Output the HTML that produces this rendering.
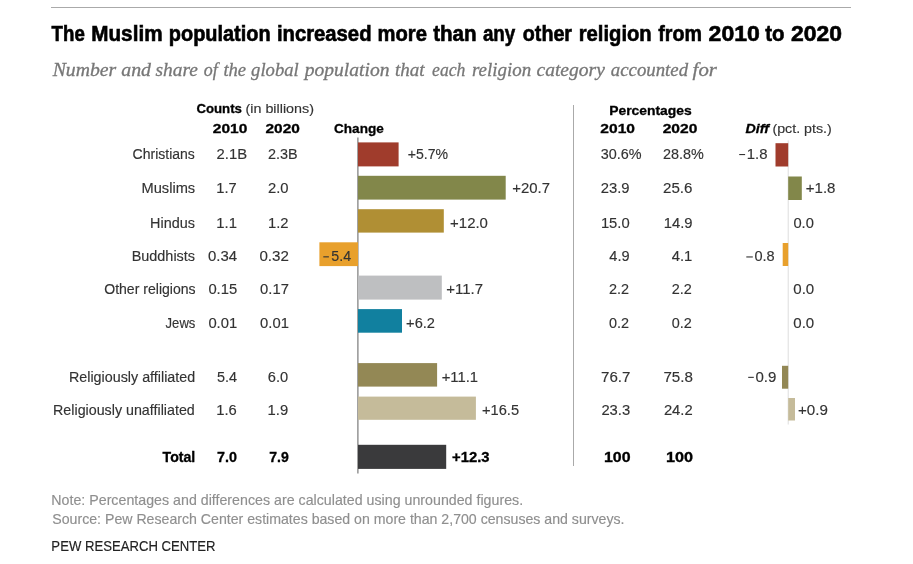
<!DOCTYPE html>
<html><head><meta charset="utf-8"><title>Pew chart</title><style>html,body{margin:0;padding:0;background:#fff;width:913px;height:564px;overflow:hidden}
svg{display:block;will-change:transform}
.r{font-family:"Liberation Sans",sans-serif;font-weight:400}
.b{font-family:"Liberation Sans",sans-serif;font-weight:700}
.bi{font-family:"Liberation Sans",sans-serif;font-weight:700;font-style:italic}
.si{font-family:"Liberation Serif",serif;font-style:italic}</style></head><body>
<svg width="913" height="564" viewBox="0 0 913 564">
<rect width="913" height="564" fill="#fff"/>
<line x1="51.00" y1="7.50" x2="851.00" y2="7.50" stroke="#aaaaaa" stroke-width="1"/>
<line x1="357.90" y1="137.60" x2="357.90" y2="473.50" stroke="#7a7a7a" stroke-width="1.2"/>
<line x1="573.50" y1="105.00" x2="573.50" y2="466.00" stroke="#aaaaaa" stroke-width="1"/>
<line x1="788.20" y1="140.40" x2="788.20" y2="424.50" stroke="#dddddd" stroke-width="1"/>
<rect x="358.00" y="142.40" width="40.60" height="24.00" fill="#A03C2C"/>
<rect x="358.00" y="175.80" width="147.70" height="23.80" fill="#82874A"/>
<rect x="358.00" y="209.20" width="85.80" height="23.40" fill="#B08F34"/>
<rect x="319.40" y="242.30" width="38.60" height="23.80" fill="#E8A02C"/>
<rect x="358.00" y="275.60" width="83.80" height="24.00" fill="#BEBFC1"/>
<rect x="358.00" y="309.10" width="44.00" height="23.60" fill="#11809F"/>
<rect x="358.00" y="363.10" width="79.10" height="23.50" fill="#938855"/>
<rect x="358.00" y="396.60" width="117.90" height="23.20" fill="#C5BB9A"/>
<rect x="358.00" y="444.80" width="88.20" height="24.10" fill="#3A3A3C"/>
<rect x="775.50" y="143.20" width="12.70" height="23.30" fill="#A03C2C"/>
<rect x="788.20" y="176.50" width="13.60" height="23.50" fill="#82874A"/>
<rect x="782.70" y="243.00" width="5.50" height="23.00" fill="#E8A02C"/>
<rect x="782.00" y="365.80" width="6.20" height="22.90" fill="#938855"/>
<rect x="788.20" y="398.00" width="6.80" height="22.50" fill="#C5BB9A"/>
<rect x="323.30" y="256.30" width="5.60" height="1.10" fill="#333333"/>
<rect x="739.20" y="154.00" width="5.90" height="1.10" fill="#333333"/>
<rect x="746.30" y="256.40" width="6.50" height="1.10" fill="#333333"/>
<rect x="748.20" y="376.80" width="5.60" height="1.10" fill="#333333"/>
<text transform="translate(51.60 41.00) scale(0.8564 1)" class="b" style="font-size:21.8px" fill="#000000" stroke="#000000" stroke-width="0.6">The</text>
<text transform="translate(91.25 41.00) scale(0.9493 1)" class="b" style="font-size:21.8px" fill="#000000" stroke="#000000" stroke-width="0.6">Muslim</text>
<text transform="translate(168.79 41.00) scale(0.9145 1)" class="b" style="font-size:21.8px" fill="#000000" stroke="#000000" stroke-width="0.6">population</text>
<text transform="translate(276.97 41.00) scale(0.9290 1)" class="b" style="font-size:21.8px" fill="#000000" stroke="#000000" stroke-width="0.6">increased</text>
<text transform="translate(377.57 41.00) scale(0.9269 1)" class="b" style="font-size:21.8px" fill="#000000" stroke="#000000" stroke-width="0.6">more</text>
<text transform="translate(433.20 41.00) scale(0.9444 1)" class="b" style="font-size:21.8px" fill="#000000" stroke="#000000" stroke-width="0.6">than</text>
<text transform="translate(482.90 41.00) scale(0.8632 1)" class="b" style="font-size:21.8px" fill="#000000" stroke="#000000" stroke-width="0.6">any</text>
<text transform="translate(522.80 41.00) scale(0.9036 1)" class="b" style="font-size:21.8px" fill="#000000" stroke="#000000" stroke-width="0.6">other</text>
<text transform="translate(578.67 41.00) scale(0.9286 1)" class="b" style="font-size:21.8px" fill="#000000" stroke="#000000" stroke-width="0.6">religion</text>
<text transform="translate(658.20 41.00) scale(0.9021 1)" class="b" style="font-size:21.8px" fill="#000000" stroke="#000000" stroke-width="0.6">from</text>
<text transform="translate(708.60 41.00) scale(1.0562 1)" class="b" style="font-size:21.8px" fill="#000000" stroke="#000000" stroke-width="0.6">2010</text>
<text transform="translate(765.30 41.00) scale(0.9350 1)" class="b" style="font-size:21.8px" fill="#000000" stroke="#000000" stroke-width="0.6">to</text>
<text transform="translate(791.10 41.00) scale(1.0500 1)" class="b" style="font-size:21.8px" fill="#000000" stroke="#000000" stroke-width="0.6">2020</text>
<text transform="translate(52.66 76.00) scale(1.0607 1)" class="si" style="font-size:18.6px" fill="#777777" stroke="#777777" stroke-width="0.3">Number</text>
<text transform="translate(121.20 76.00) scale(1.0679 1)" class="si" style="font-size:18.6px" fill="#777777" stroke="#777777" stroke-width="0.3">and</text>
<text transform="translate(155.50 76.00) scale(1.0415 1)" class="si" style="font-size:18.6px" fill="#777777" stroke="#777777" stroke-width="0.3">share</text>
<text transform="translate(203.70 76.00) scale(0.9647 1)" class="si" style="font-size:18.6px" fill="#777777" stroke="#777777" stroke-width="0.3">of</text>
<text transform="translate(223.40 76.00) scale(1.0000 1)" class="si" style="font-size:18.6px" fill="#777777" stroke="#777777" stroke-width="0.3">the</text>
<text transform="translate(251.10 76.00) scale(1.0021 1)" class="si" style="font-size:18.6px" fill="#777777" stroke="#777777" stroke-width="0.3">global</text>
<text transform="translate(304.75 76.00) scale(1.0519 1)" class="si" style="font-size:18.6px" fill="#777777" stroke="#777777" stroke-width="0.3">population</text>
<text transform="translate(394.90 76.00) scale(1.0233 1)" class="si" style="font-size:18.6px" fill="#777777" stroke="#777777" stroke-width="0.3">that</text>
<text transform="translate(432.10 76.00) scale(0.9486 1)" class="si" style="font-size:18.6px" fill="#777777" stroke="#777777" stroke-width="0.3">each</text>
<text transform="translate(471.90 76.00) scale(1.0190 1)" class="si" style="font-size:18.6px" fill="#777777" stroke="#777777" stroke-width="0.3">religion</text>
<text transform="translate(536.50 76.00) scale(1.0508 1)" class="si" style="font-size:18.6px" fill="#777777" stroke="#777777" stroke-width="0.3">category</text>
<text transform="translate(610.80 76.00) scale(1.0117 1)" class="si" style="font-size:18.6px" fill="#777777" stroke="#777777" stroke-width="0.3">accounted</text>
<text transform="translate(692.60 76.00) scale(1.1182 1)" class="si" style="font-size:18.6px" fill="#777777" stroke="#777777" stroke-width="0.3">for</text>
<text transform="translate(196.40 113.40) scale(1.0022 1)" class="b" style="font-size:13.2px" fill="#000000" stroke="#000000" stroke-width="0.3">Counts</text>
<text transform="translate(245.50 113.40) scale(1.0857 1)" class="r" style="font-size:13.2px" fill="#333333" stroke="#333333" stroke-width="0.15">(in billions)</text>
<text transform="translate(212.80 133.20) scale(1.1400 1)" class="b" style="font-size:13.6px" fill="#000000" stroke="#000000" stroke-width="0.3">2010</text>
<text transform="translate(265.50 133.20) scale(1.1367 1)" class="b" style="font-size:13.6px" fill="#000000" stroke="#000000" stroke-width="0.3">2020</text>
<text transform="translate(334.00 133.00) scale(1.0143 1)" class="b" style="font-size:13.4px" fill="#000000" stroke="#000000" stroke-width="0.3">Change</text>
<text transform="translate(609.20 114.60) scale(1.0688 1)" class="b" style="font-size:13.0px" fill="#000000" stroke="#000000" stroke-width="0.3">Percentages</text>
<text transform="translate(600.30 133.20) scale(1.1467 1)" class="b" style="font-size:13.6px" fill="#000000" stroke="#000000" stroke-width="0.3">2010</text>
<text transform="translate(662.70 133.20) scale(1.1467 1)" class="b" style="font-size:13.6px" fill="#000000" stroke="#000000" stroke-width="0.3">2020</text>
<text transform="translate(745.50 132.70) scale(1.0625 1)" class="bi" style="font-size:13.4px" fill="#000000" stroke="#000000" stroke-width="0.3">Diff</text>
<text transform="translate(772.40 132.70) scale(1.0636 1)" class="r" style="font-size:13.4px" fill="#333333" stroke="#333333" stroke-width="0.15">(pct. pts.)</text>
<text transform="translate(132.60 158.80) scale(0.9343 1)" class="r" style="font-size:15.0px" fill="#333333" stroke="#333333" stroke-width="0.15">Christians</text>
<text transform="translate(141.52 192.90) scale(0.9759 1)" class="r" style="font-size:15.0px" fill="#333333" stroke="#333333" stroke-width="0.15">Muslims</text>
<text transform="translate(150.04 227.60) scale(0.9609 1)" class="r" style="font-size:15.0px" fill="#333333" stroke="#333333" stroke-width="0.15">Hindus</text>
<text transform="translate(131.64 260.80) scale(0.9631 1)" class="r" style="font-size:15.0px" fill="#333333" stroke="#333333" stroke-width="0.15">Buddhists</text>
<text transform="translate(104.20 294.00) scale(0.9381 1)" class="r" style="font-size:15.0px" fill="#333333" stroke="#333333" stroke-width="0.15">Other religions</text>
<text transform="translate(165.60 327.80) scale(0.8706 1)" class="r" style="font-size:15.0px" fill="#333333" stroke="#333333" stroke-width="0.15">Jews</text>
<text transform="translate(68.95 382.00) scale(0.9550 1)" class="r" style="font-size:15.0px" fill="#333333" stroke="#333333" stroke-width="0.15">Religiously affiliated</text>
<text transform="translate(53.05 415.30) scale(0.9527 1)" class="r" style="font-size:15.0px" fill="#333333" stroke="#333333" stroke-width="0.15">Religiously unaffiliated</text>
<text transform="translate(162.60 462.10) scale(1.0094 1)" class="b" style="font-size:14px" fill="#000000" stroke="#000000" stroke-width="0.3">Total</text>
<text transform="translate(216.60 158.80) scale(0.9900 1)" class="r" style="font-size:15.0px" fill="#333333" stroke="#333333" stroke-width="0.15">2.1B</text>
<text transform="translate(216.32 192.90) scale(0.9800 1)" class="r" style="font-size:15.0px" fill="#333333" stroke="#333333" stroke-width="0.15">1.7</text>
<text transform="translate(216.31 227.60) scale(0.9900 1)" class="r" style="font-size:15.0px" fill="#333333" stroke="#333333" stroke-width="0.15">1.1</text>
<text transform="translate(208.00 260.80) scale(0.9966 1)" class="r" style="font-size:15.0px" fill="#333333" stroke="#333333" stroke-width="0.15">0.34</text>
<text transform="translate(208.41 294.00) scale(0.9860 1)" class="r" style="font-size:15.0px" fill="#333333" stroke="#333333" stroke-width="0.15">0.15</text>
<text transform="translate(208.41 327.80) scale(0.9860 1)" class="r" style="font-size:15.0px" fill="#333333" stroke="#333333" stroke-width="0.15">0.01</text>
<text transform="translate(217.00 382.00) scale(0.9619 1)" class="r" style="font-size:15.0px" fill="#333333" stroke="#333333" stroke-width="0.15">5.4</text>
<text transform="translate(216.29 415.30) scale(0.9860 1)" class="r" style="font-size:15.0px" fill="#333333" stroke="#333333" stroke-width="0.15">1.6</text>
<text transform="translate(217.00 462.10) scale(1.0263 1)" class="b" style="font-size:14px" fill="#000000" stroke="#000000" stroke-width="0.3">7.0</text>
<text transform="translate(268.00 158.80) scale(0.9600 1)" class="r" style="font-size:15.0px" fill="#333333" stroke="#333333" stroke-width="0.15">2.3B</text>
<text transform="translate(268.00 192.90) scale(0.9857 1)" class="r" style="font-size:15.0px" fill="#333333" stroke="#333333" stroke-width="0.15">2.0</text>
<text transform="translate(267.99 227.60) scale(0.9860 1)" class="r" style="font-size:15.0px" fill="#333333" stroke="#333333" stroke-width="0.15">1.2</text>
<text transform="translate(259.40 260.80) scale(1.0103 1)" class="r" style="font-size:15.0px" fill="#333333" stroke="#333333" stroke-width="0.15">0.32</text>
<text transform="translate(260.11 294.00) scale(0.9860 1)" class="r" style="font-size:15.0px" fill="#333333" stroke="#333333" stroke-width="0.15">0.17</text>
<text transform="translate(260.11 327.80) scale(0.9860 1)" class="r" style="font-size:15.0px" fill="#333333" stroke="#333333" stroke-width="0.15">0.01</text>
<text transform="translate(267.80 382.00) scale(0.9762 1)" class="r" style="font-size:15.0px" fill="#333333" stroke="#333333" stroke-width="0.15">6.0</text>
<text transform="translate(267.59 415.30) scale(0.9860 1)" class="r" style="font-size:15.0px" fill="#333333" stroke="#333333" stroke-width="0.15">1.9</text>
<text transform="translate(269.20 462.10) scale(1.0053 1)" class="b" style="font-size:14px" fill="#000000" stroke="#000000" stroke-width="0.3">7.9</text>
<text transform="translate(407.70 158.80) scale(0.9395 1)" class="r" style="font-size:15.0px" fill="#333333" stroke="#333333" stroke-width="0.15">+5.7%</text>
<text transform="translate(512.30 192.90) scale(0.9947 1)" class="r" style="font-size:15.0px" fill="#333333" stroke="#333333" stroke-width="0.15">+20.7</text>
<text transform="translate(450.10 227.60) scale(0.9974 1)" class="r" style="font-size:15.0px" fill="#333333" stroke="#333333" stroke-width="0.15">+12.0</text>
<text transform="translate(331.30 260.80) scale(0.9476 1)" class="r" style="font-size:15.0px" fill="#333333" stroke="#333333" stroke-width="0.15">5.4</text>
<text transform="translate(446.20 294.00) scale(1.0000 1)" class="r" style="font-size:15.0px" fill="#333333" stroke="#333333" stroke-width="0.15">+11.7</text>
<text transform="translate(406.10 327.80) scale(0.9759 1)" class="r" style="font-size:15.0px" fill="#333333" stroke="#333333" stroke-width="0.15">+6.2</text>
<text transform="translate(441.70 382.00) scale(0.9892 1)" class="r" style="font-size:15.0px" fill="#333333" stroke="#333333" stroke-width="0.15">+11.1</text>
<text transform="translate(482.00 415.30) scale(0.9763 1)" class="r" style="font-size:15.0px" fill="#333333" stroke="#333333" stroke-width="0.15">+16.5</text>
<text transform="translate(452.00 462.10) scale(1.0600 1)" class="b" style="font-size:14px" fill="#000000" stroke="#000000" stroke-width="0.3">+12.3</text>
<text transform="translate(600.70 158.80) scale(0.9595 1)" class="r" style="font-size:15.0px" fill="#333333" stroke="#333333" stroke-width="0.15">30.6%</text>
<text transform="translate(600.70 192.90) scale(0.9862 1)" class="r" style="font-size:15.0px" fill="#333333" stroke="#333333" stroke-width="0.15">23.9</text>
<text transform="translate(600.91 227.60) scale(0.9860 1)" class="r" style="font-size:15.0px" fill="#333333" stroke="#333333" stroke-width="0.15">15.0</text>
<text transform="translate(609.30 260.80) scale(0.9714 1)" class="r" style="font-size:15.0px" fill="#333333" stroke="#333333" stroke-width="0.15">4.9</text>
<text transform="translate(609.10 294.00) scale(0.9619 1)" class="r" style="font-size:15.0px" fill="#333333" stroke="#333333" stroke-width="0.15">2.2</text>
<text transform="translate(609.10 327.80) scale(0.9619 1)" class="r" style="font-size:15.0px" fill="#333333" stroke="#333333" stroke-width="0.15">0.2</text>
<text transform="translate(601.00 382.00) scale(1.0069 1)" class="r" style="font-size:15.0px" fill="#333333" stroke="#333333" stroke-width="0.15">76.7</text>
<text transform="translate(601.41 415.30) scale(0.9860 1)" class="r" style="font-size:15.0px" fill="#333333" stroke="#333333" stroke-width="0.15">23.3</text>
<text transform="translate(604.00 462.10) scale(1.1391 1)" class="b" style="font-size:14px" fill="#000000" stroke="#000000" stroke-width="0.3">100</text>
<text transform="translate(663.00 158.80) scale(0.9595 1)" class="r" style="font-size:15.0px" fill="#333333" stroke="#333333" stroke-width="0.15">28.8%</text>
<text transform="translate(663.00 192.90) scale(1.0069 1)" class="r" style="font-size:15.0px" fill="#333333" stroke="#333333" stroke-width="0.15">25.6</text>
<text transform="translate(663.81 227.60) scale(0.9860 1)" class="r" style="font-size:15.0px" fill="#333333" stroke="#333333" stroke-width="0.15">14.9</text>
<text transform="translate(671.69 260.80) scale(0.9860 1)" class="r" style="font-size:15.0px" fill="#333333" stroke="#333333" stroke-width="0.15">4.1</text>
<text transform="translate(671.80 294.00) scale(0.9619 1)" class="r" style="font-size:15.0px" fill="#333333" stroke="#333333" stroke-width="0.15">2.2</text>
<text transform="translate(671.80 327.80) scale(0.9619 1)" class="r" style="font-size:15.0px" fill="#333333" stroke="#333333" stroke-width="0.15">0.2</text>
<text transform="translate(663.40 382.00) scale(1.0103 1)" class="r" style="font-size:15.0px" fill="#333333" stroke="#333333" stroke-width="0.15">75.8</text>
<text transform="translate(663.91 415.30) scale(0.9860 1)" class="r" style="font-size:15.0px" fill="#333333" stroke="#333333" stroke-width="0.15">24.2</text>
<text transform="translate(666.00 462.10) scale(1.1609 1)" class="b" style="font-size:14px" fill="#000000" stroke="#000000" stroke-width="0.3">100</text>
<text transform="translate(746.80 158.80) scale(0.9950 1)" class="r" style="font-size:15.0px" fill="#333333" stroke="#333333" stroke-width="0.15">1.8</text>
<text transform="translate(805.80 192.90) scale(1.0000 1)" class="r" style="font-size:15.0px" fill="#333333" stroke="#333333" stroke-width="0.15">+1.8</text>
<text transform="translate(793.40 227.60) scale(0.9810 1)" class="r" style="font-size:15.0px" fill="#333333" stroke="#333333" stroke-width="0.15">0.0</text>
<text transform="translate(754.40 260.80) scale(0.9714 1)" class="r" style="font-size:15.0px" fill="#333333" stroke="#333333" stroke-width="0.15">0.8</text>
<text transform="translate(793.30 294.00) scale(1.0048 1)" class="r" style="font-size:15.0px" fill="#333333" stroke="#333333" stroke-width="0.15">0.0</text>
<text transform="translate(793.30 327.80) scale(1.0048 1)" class="r" style="font-size:15.0px" fill="#333333" stroke="#333333" stroke-width="0.15">0.0</text>
<text transform="translate(755.50 382.00) scale(1.0000 1)" class="r" style="font-size:15.0px" fill="#333333" stroke="#333333" stroke-width="0.15">0.9</text>
<text transform="translate(798.00 415.30) scale(1.0103 1)" class="r" style="font-size:15.0px" fill="#333333" stroke="#333333" stroke-width="0.15">+0.9</text>
<text transform="translate(51.28 505.00) scale(1.0166 1)" class="r" style="font-size:14.0px" fill="#8f8f8f" stroke="#8f8f8f" stroke-width="0.15">Note: Percentages and differences are calculated using unrounded figures.</text>
<text transform="translate(52.30 523.60) scale(1.0111 1)" class="r" style="font-size:14.0px" fill="#8f8f8f" stroke="#8f8f8f" stroke-width="0.15">Source: Pew Research Center estimates based on more than 2,700 censuses and surveys.</text>
<text transform="translate(51.37 551.00) scale(0.9256 1)" class="r" style="font-size:14.2px" fill="#222222" stroke="#222222" stroke-width="0.15">PEW RESEARCH CENTER</text>
</svg>
</body></html>
